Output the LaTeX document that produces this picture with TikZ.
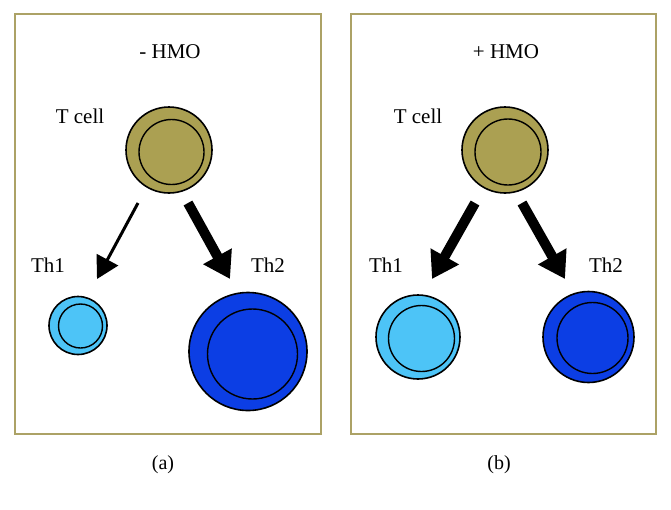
\documentclass[tikz,border=0pt]{standalone}
\usepackage{fontspec}
\setmainfont{Liberation Serif}
\usetikzlibrary{arrows.meta}
\definecolor{frameol}{RGB}{172,162,102}
\definecolor{olivefill}{RGB}{171,160,82}
\definecolor{lightb}{RGB}{77,196,247}
\definecolor{darkb}{RGB}{12,62,228}
\tikzset{
  panel/.style={draw=frameol, line width=2pt},
  lbl/.style={font=\fontsize{21}{25}\selectfont, inner sep=0pt},
  captext/.style={font=\fontsize{20}{24}\selectfont, inner sep=0pt},
  cell/.style={circle, draw=black, line width=1.6pt, inner sep=0pt},
  nucleus/.style={draw=black, line width=1.4pt},
  thinarrow/.style={line width=3pt, -{Triangle[length=22pt,width=24pt]}},
  thickarrow/.style={line width=10pt, -{Triangle[length=26pt,width=31pt]}},
}
\begin{document}
\begin{tikzpicture}[x=1pt,y=-1pt]
\useasboundingbox (0,0) rectangle (671,509);
% panels
\draw[panel] (15,14) rectangle (321,434);
\draw[panel] (351,14) rectangle (656,434);
% panel (a)
\node[lbl] (hmoA) at (170,52) {- HMO};
\node[lbl] (tcA) at (80,116) {T cell};
\node[cell, fill=olivefill, minimum size=86pt] (tA) at (169,150) {};
\draw[nucleus] (171.5,152) circle (32.5);
\node[lbl] (th1A) at (48,265) {Th1};
\node[lbl] (th2A) at (268,265) {Th2};
\node[cell, fill=lightb, minimum size=58pt] (c1A) at (78,325.5) {};
\draw[nucleus] (80.5,326) circle (22);
\node[cell, fill=darkb, minimum size=118pt] (c2A) at (248,351.5) {};
\draw[nucleus] (252.5,354) circle (45);
\coordinate (a1s) at (138,203);
\coordinate (a1e) at (97,279);
\coordinate (a2s) at (188,203);
\coordinate (a2e) at (230,279);
\draw[thinarrow] (a1s) -- (a1e);
\draw[thickarrow] (a2s) -- (a2e);
\node[captext] (capA) at (163,465) {(a)};
% panel (b)
\node[lbl] (hmoB) at (506,52) {+ HMO};
\node[lbl] (tcB) at (418,116) {T cell};
\node[cell, fill=olivefill, minimum size=86pt] (tB) at (505,150) {};
\draw[nucleus] (508,152) circle (33);
\node[lbl] (th1B) at (386,265) {Th1};
\node[lbl] (th2B) at (606,265) {Th2};
\node[cell, fill=lightb, minimum size=84pt] (c1B) at (418,337) {};
\draw[nucleus] (421.5,338.5) circle (33);
\node[cell, fill=darkb, minimum size=91pt] (c2B) at (588.5,337) {};
\draw[nucleus] (592.5,338) circle (35.5);
\coordinate (b1s) at (475,203);
\coordinate (b1e) at (432,279);
\coordinate (b2s) at (522,203);
\coordinate (b2e) at (565,279);
\draw[thickarrow] (b1s) -- (b1e);
\draw[thickarrow] (b2s) -- (b2e);
\node[captext] (capB) at (499,465) {(b)};
\end{tikzpicture}
\end{document}
